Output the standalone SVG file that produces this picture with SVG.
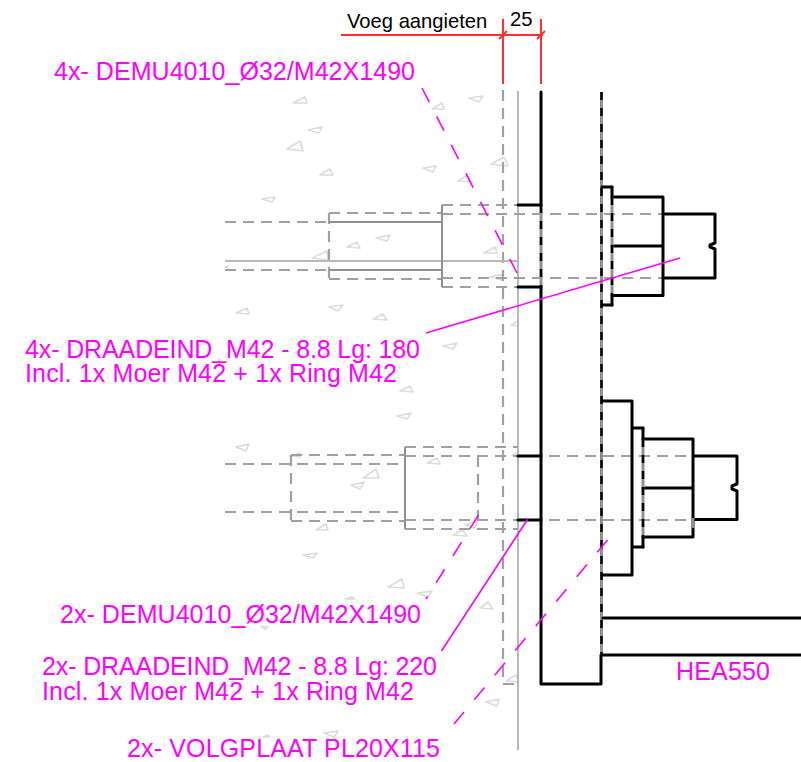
<svg xmlns="http://www.w3.org/2000/svg" width="801" height="762" viewBox="0 0 801 762">
<style>
.t{font-family:"Liberation Sans",Arial,sans-serif;font-size:25px;fill:#ff00ff}
.b{font-family:"Liberation Sans",Arial,sans-serif;font-size:20.200px;fill:#000}
.k{fill:none;stroke:#000;stroke-width:3;stroke-linejoin:round;stroke-linecap:round}
.kd{fill:none;stroke:#000;stroke-width:2.500;stroke-dasharray:8 8}
.g{fill:none;stroke:#a0a0a0;stroke-width:2.200;stroke-dasharray:11 7}
.gs{fill:none;stroke:#b8b8b8;stroke-width:2}
.gd{fill:none;stroke:#909090;stroke-width:2}
.gk{fill:none;stroke:#909090;stroke-width:3}
.c{fill:none;stroke:#dcdcdc;stroke-width:1.600;stroke-linejoin:round}
.r{fill:none;stroke:#ff3030;stroke-width:2}
.m{fill:none;stroke:#ff00ff;stroke-width:1.600}
.md{fill:none;stroke:#ff00ff;stroke-width:1.600;stroke-dasharray:16 16}
</style>
<rect width="801" height="762" fill="#fff"/>
<g id="concrete-hatch" class="c">
<polygon points="293,103 305,97 307,103"/><polygon points="308,130 322,127 319,133"/><polygon points="287,149 300,141 303,151"/><polygon points="320,175 330,169 333,175"/><polygon points="262,199 275,197 272,202"/><polygon points="423,168 436,166 433,172"/><polygon points="432,109 442,103 444,109"/><polygon points="469,98 483,96 479,102"/><polygon points="491,164 504,157 508,166"/><polygon points="458,181 468,175 471,182"/>
<polygon points="347,247 357,242 360,248"/><polygon points="376,238 390,235 387,241"/><polygon points="312,258 327,251 328,260"/><polygon points="484,253 495,247 497,253"/><polygon points="490,277 503,274 502,280"/><polygon points="329,307 343,305 338,311"/><polygon points="236,313 247,308 249,314"/><polygon points="225,267 228,266 228,268"/>
<polygon points="373,319 383,314 387,320"/><polygon points="443,346 457,343 453,349"/><polygon points="400,391 410,386 413,392"/><polygon points="397,416 411,413 407,419"/><polygon points="511,325 518,321 518,326"/>
<polygon points="236,447 249,444 246,451"/><polygon points="290,456 300,453 300,457"/><polygon points="363,478 376,469 379,478"/><polygon points="351,485 364,482 360,489"/><polygon points="427,463 437,458 440,464"/><polygon points="316,530 326,524 328,530"/><polygon points="465,525 478,521 475,528"/><polygon points="453,535 463,530 467,536"/><polygon points="512,455 518,453 518,457"/>
<polygon points="303,555 317,553 313,558"/><polygon points="345,599 352,597 355,599"/><polygon points="261,626 268,627 265,629"/><polygon points="324,733 338,731 334,737"/><polygon points="263,737 268,735 270,737"/>
<polygon points="388,587 402,579 404,588"/><polygon points="418,593 432,591 428,597"/><polygon points="480,608 488,602 493,609"/><polygon points="506,681 516,675 518,682"/><polygon points="486,702 499,699 497,706"/>
</g>
<g id="wall">
<path class="g" d="M503 90V684H515"/>
<path class="gs" d="M518 91V750"/>
</g>
<g id="base-plate">
<path class="k" d="M541 92V205M541 287V684H601V655"/>
<path class="gk" d="M601.500 92V655"/>
<path class="kd" d="M601.500 92V655"/>
<path class="gk" d="M541 205V287"/>
<path class="kd" d="M541 205V287"/>
</g>
<g id="upper-anchor">
<path class="gs" d="M225 261H518"/>
<path class="g" d="M225 222H329M225 270H329M329 213H442M329 279H442M329 213V279M442 205H518M442 287H518"/>
<path class="gd" d="M329 222H442M329 270H442M442 205V287"/>
<path class="g" d="M442 214H663M442 278H663"/>
</g>
<g id="upper-nut">
<path class="k" d="M518 205H541M518 287H541"/>
<path class="k" d="M602 187H612M612 197H663V295.500H612M612 305H602M612 246H663M663 214H715V243L710 245V247L715 249V278H663"/>
<path class="k" d="M612 187V197M612 295.500V305"/>
<path class="gk" d="M612 197V295"/>
<path class="kd" d="M612 197V295"/>
</g>
<g id="lower-anchor">
<path class="g" d="M225 464H405M225 512H405M291 455H405M291 521H405M291 455V521M405 447H518M405 529H518M478 456V520"/>
<path class="gd" d="M405 447V529"/>
<path class="g" d="M405 456H693M405 520H693"/>
</g>
<g id="lower-nut">
<path class="k" d="M518 456H541M518 520H541"/>
<path class="k" d="M602 401H632V575H602M632 428H643M643 547H632M643 439H693V537H643M643 488H693M693 456H737V484L732 486V489L737 491V519.500H693"/>
<path class="k" d="M643 428V439M643 537V547"/>
<path class="gk" d="M643 439V537M693 518V528"/>
<path class="kd" d="M643 439V537"/>
</g>
<g id="hea550">
<path class="k" d="M603 618H801M603 655H801"/>
</g>
<g id="connectors">
<path class="r" d="M341 35H543M503 19V84M541 19V84M499 39L507 31M537 39L545 31"/>
<path class="md" d="M422 88L517 273"/>
<path class="m" d="M426 333L680 258"/>
<path class="md" d="M478.500 515L426 599"/>
<path class="m" d="M527.500 519.500L441.500 651"/>
<path class="md" d="M607.500 540L454 724"/>
</g>
<g id="labels">
<text class="b" x="347" y="28">Voeg aangieten</text>
<text class="b" x="510" y="26">25</text>
<text class="t" x="54" y="80" textLength="361">4x- DEMU4010_Ø32/M42X1490</text>
<text class="t" x="25" y="358" textLength="395">4x- DRAADEIND_M42 - 8.8 Lg: 180</text>
<text class="t" x="25" y="382" textLength="372">Incl. 1x Moer M42 + 1x Ring M42</text>
<text class="t" x="60" y="623" textLength="361">2x- DEMU4010_Ø32/M42X1490</text>
<text class="t" x="42" y="675" textLength="395">2x- DRAADEIND_M42 - 8.8 Lg: 220</text>
<text class="t" x="42" y="699.500" textLength="372">Incl. 1x Moer M42 + 1x Ring M42</text>
<text class="t" x="676" y="680" textLength="94">HEA550</text>
<text class="t" x="127" y="757" textLength="313">2x- VOLGPLAAT PL20X115</text>
</g>
</svg>
